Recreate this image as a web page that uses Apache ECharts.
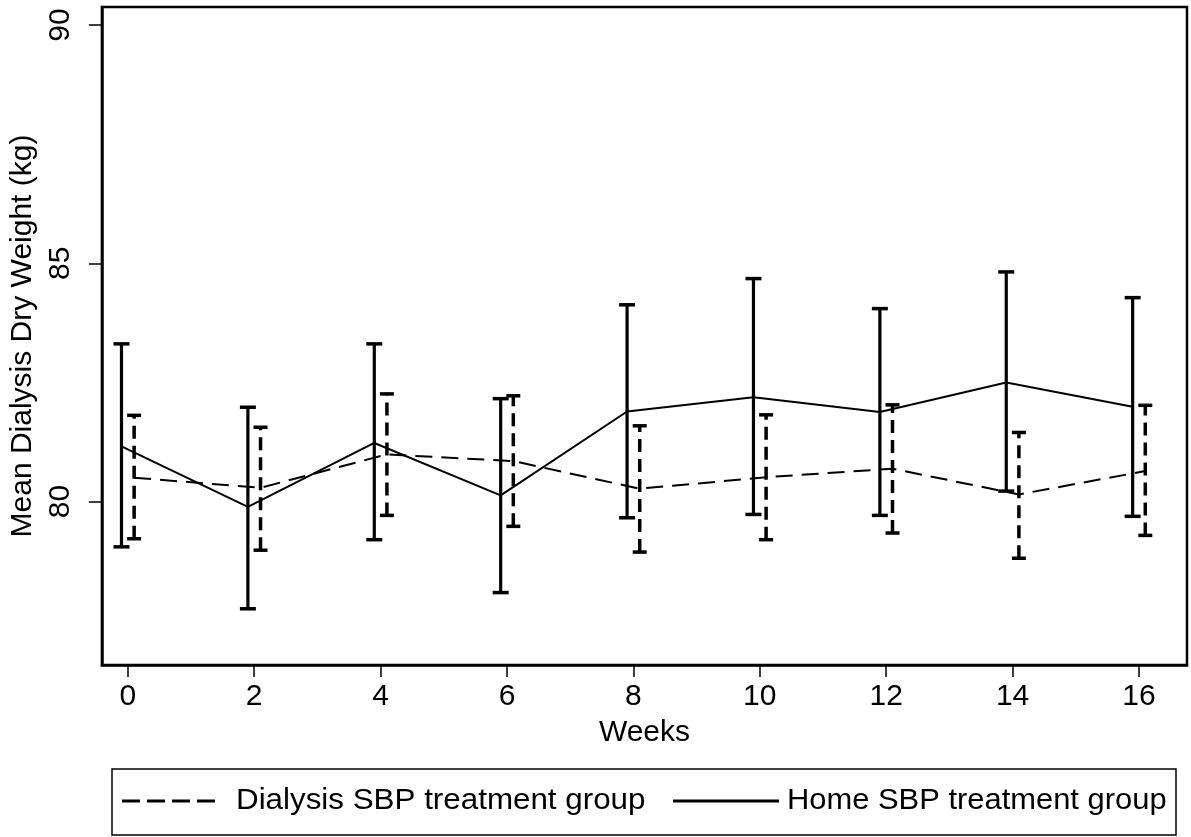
<!DOCTYPE html>
<html>
<head>
<meta charset="utf-8">
<script src="https://cdn.jsdelivr.net/npm/echarts@6.0.0/dist/echarts.min.js"></script>
<style>
html,body{margin:0;padding:0;background:#fff;}
#chart{width:1191px;height:837px;}
</style>
</head>
<body>
<div id="chart"></div>
<script>
// ---- data ----
const weeks = [0, 2, 4, 6, 8, 10, 12, 14, 16];
const homeMean = [81.16, 79.89, 81.23, 80.13, 81.89, 82.19, 81.88, 82.50, 81.99];
const homeLow  = [79.05, 77.75, 79.20, 78.09, 79.66, 79.73, 79.71, 80.22, 79.69];
const homeHigh = [83.31, 81.98, 83.31, 82.16, 84.13, 84.68, 84.05, 84.82, 84.28];
const dialMean = [80.50, 80.29, 80.99, 80.85, 80.27, 80.51, 80.69, 80.15, 80.64];
const dialLow  = [79.22, 78.98, 79.71, 79.48, 78.94, 79.20, 79.34, 78.81, 79.29];
const dialHigh = [81.81, 81.56, 82.26, 82.22, 81.59, 81.82, 82.03, 81.45, 82.02];
const xTicks = [0, 2, 4, 6, 8, 10, 12, 14, 16];
const yTicks = [80, 85, 90];
const seriesNames = ['Dialysis SBP treatment group', 'Home SBP treatment group'];
const xTitle = 'Weeks';
const yTitle = 'Mean Dialysis Dry Weight (kg)';

// ---- presentation ----
const HOME_OFF = -0.1, DIAL_OFF = 0.1;
const FONT = '"Liberation Sans", Arial, Helvetica, sans-serif';
const FS = 30;

const homeLine = weeks.map((w, i) => [w + HOME_OFF, homeMean[i]]);
const dialLine = weeks.map((w, i) => [w + DIAL_OFF, dialMean[i]]);
const homeErr = weeks.map((w, i) => [w + HOME_OFF, homeLow[i], homeHigh[i]]);
const dialErr = weeks.map((w, i) => [w + DIAL_OFF, dialLow[i], dialHigh[i]]);

function errRender(style) {
  return function (params, api) {
    const x = api.value(0);
    const lo = api.coord([x, api.value(1)]);
    const hi = api.coord([x, api.value(2)]);
    const hw = style.cap;
    const base = {stroke: '#000', lineWidth: style.width};
    return {
      type: 'group',
      children: [
        {type: 'line', shape: {x1: lo[0], y1: lo[1], x2: hi[0], y2: hi[1]},
         style: Object.assign({}, base, style.dash ? {lineDash: style.dash} : {})},
        {type: 'line', shape: {x1: lo[0] - hw, y1: lo[1], x2: lo[0] + hw, y2: lo[1]}, style: Object.assign({}, base, {lineWidth: style.capWidth})},
        {type: 'line', shape: {x1: hi[0] - hw, y1: hi[1], x2: hi[0] + hw, y2: hi[1]}, style: Object.assign({}, base, {lineWidth: style.capWidth})}
      ]
    };
  };
}

const chart = echarts.init(document.getElementById('chart'), null, {renderer: 'canvas'});
chart.setOption({
  animation: false,
  backgroundColor: '#fff',
  grid: {left: 100, top: 7, right: 4, bottom: 172, show: true, borderColor: '#000', borderWidth: 2.5, containLabel: false},
  xAxis: {
    type: 'value', min: -0.41, max: 16.76,
    name: xTitle, nameLocation: 'middle', nameGap: 53,
    nameTextStyle: {fontFamily: FONT, fontSize: FS, color: '#000'},
    axisLine: {show: true, onZero: false, lineStyle: {color: '#000', width: 2.5}},
    axisTick: {show: true, length: 12, customValues: xTicks, lineStyle: {color: '#000', width: 1.5}},
    axisLabel: {customValues: xTicks, fontFamily: FONT, fontSize: FS, color: '#000', margin: 17},
    splitLine: {show: false}
  },
  yAxis: {
    type: 'value', min: 76.57, max: 90.38,
    name: yTitle, nameLocation: 'middle', nameGap: 59, nameRotate: 90,
    nameTextStyle: {fontFamily: FONT, fontSize: FS, color: '#000'},
    axisLine: {show: true, onZero: false, lineStyle: {color: '#000', width: 2.5}},
    axisTick: {show: true, length: 13, customValues: yTicks, lineStyle: {color: '#000', width: 1.5}},
    axisLabel: {customValues: yTicks, rotate: 90, fontFamily: FONT, fontSize: FS, color: '#000', margin: 26},
    splitLine: {show: false}
  },
  series: [
    {name: seriesNames[0], type: 'line', data: dialLine, symbol: 'none',
     lineStyle: {color: '#000', width: 2, type: [17, 9]}, z: 3},
    {name: seriesNames[1], type: 'line', data: homeLine, symbol: 'none',
     lineStyle: {color: '#000', width: 2, type: 'solid'}, z: 3},
    {type: 'custom', data: dialErr, renderItem: errRender({width: 3.5, capWidth: 3.5, cap: 7, dash: [13, 7]}), z: 4},
    {type: 'custom', data: homeErr, renderItem: errRender({width: 3.2, capWidth: 3.5, cap: 8}), z: 4}
  ],
  graphic: [
    {type: 'rect', shape: {x: 112, y: 769, width: 1064, height: 66}, style: {fill: 'none', stroke: '#000', lineWidth: 1.5}},
    {type: 'line', shape: {x1: 122, y1: 801, x2: 222, y2: 801}, style: {stroke: '#000', lineWidth: 3, lineDash: [18, 7]}},
    {type: 'text', x: 236, y: 801, scaleX: 1.045, style: {text: seriesNames[0], font: FS + 'px ' + FONT, fill: '#000', verticalAlign: 'middle', align: 'left'}},
    {type: 'line', shape: {x1: 673, y1: 801, x2: 779, y2: 801}, style: {stroke: '#000', lineWidth: 3}},
    {type: 'text', x: 787, y: 801, scaleX: 1.03, style: {text: seriesNames[1], font: FS + 'px ' + FONT, fill: '#000', verticalAlign: 'middle', align: 'left'}}
  ]
});
</script>
</body>
</html>
